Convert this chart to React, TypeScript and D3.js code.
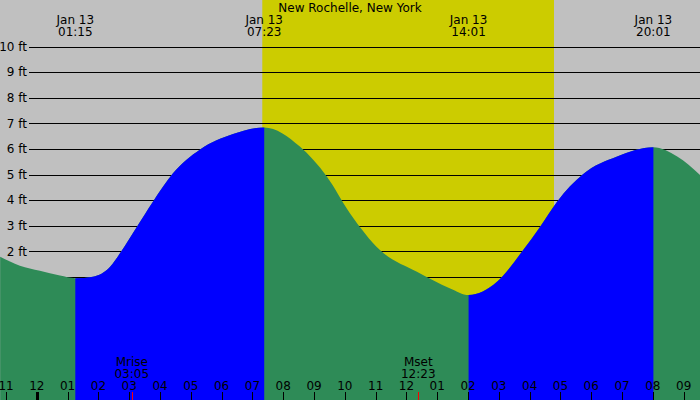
import { useEffect, useRef } from 'react';
import { select, scaleLinear, area, curveMonotoneX, range } from 'd3';

// Tide heights (ft), hours relative to midnight Jan 13
const tideHours = [
  -1.19, -0.55, 0.1, 0.75, 1.25, 1.82, 2.38, 2.7, 3.25, 3.77, 4.42, 5.3, 6.37, 7.383,
  8.54, 9.42, 10.17, 11.14, 12.34, 13.42, 14.017, 14.94, 15.79, 16.34, 16.89, 17.73,
  18.84, 20.017, 20.79, 21.53,
];
const tideFeet = [
  1.79, 1.44, 1.24, 1.05, 0.95, 1.01, 1.4, 1.92, 2.96, 3.94, 5.05, 5.98, 6.58, 6.84,
  6.09, 4.91, 3.48, 2.05, 1.2, 0.55, 0.29, 0.81, 2.05, 2.96, 3.94, 5.01,
  5.7, 6.06, 5.7, 4.98,
];

// High / low tide events shown in the header
const extremeHours = [1.25, 7.383, 14.017, 20.017];
const extremeLabels = ['01:15', '07:23', '14:01', '20:01'];
const extremeDate = 'Jan 13';

// Daylight (sunrise, sunset)
const sunHours = [7.32, 16.79];

// Moon events
const moonNames = ['Mrise', 'Mset'];
const moonHours = [3.083, 12.383];
const moonLabels = ['03:05', '12:23'];

const feetTicks = range(-1, 11);
const hourTicks = range(-1, 22);

const title = 'New Rochelle, New York';

const FONT = '"DejaVu Sans", sans-serif';

export default function App() {
  const svgRef = useRef<SVGSVGElement>(null);

  useEffect(() => {
    if (!svgRef.current) return;
    const width = 700;
    const height = 400;

    const svg = select(svgRef.current);
    svg.selectAll('*').remove();

    const x = scaleLinear().domain([-1.195, 21.53]).range([0, width]);
    const y = scaleLinear().domain([0, 10]).range([302.5, 46.5]);

    // Background: night grey, daylight yellow
    svg.append('rect').attr('width', width).attr('height', height).attr('fill', '#c0c0c0');
    svg
      .append('rect')
      .attr('x', x(sunHours[0]))
      .attr('width', x(sunHours[1]) - x(sunHours[0]))
      .attr('height', height)
      .attr('fill', '#cccc00');

    // Grid lines + labels
    feetTicks.forEach((f) => {
      svg
        .append('line')
        .attr('x1', 29)
        .attr('x2', width)
        .attr('y1', Math.round(y(f)) + 0.5)
        .attr('y2', Math.round(y(f)) + 0.5)
        .attr('stroke', '#000')
        .attr('stroke-width', 1);
      svg
        .append('text')
        .attr('x', 27)
        .attr('y', y(f))
        .attr('dy', '0.36em')
        .attr('text-anchor', 'end')
        .attr('font-family', FONT)
        .attr('font-size', 12)
        .attr('fill', '#000')
        .text(`${f} ft`);
    });

    // Water
    const data = tideHours.map((h, i) => ({ h, v: tideFeet[i] }));
    const water = area<{ h: number; v: number }>()
      .x((d) => x(d.h))
      .y0(height)
      .y1((d) => y(d.v))
      .curve(curveMonotoneX);

    svg.append('path').datum(data).attr('d', water).attr('fill', '#2e8b57');

    // Rising tide in blue (low -> high)
    const defs = svg.append('defs');
    const clip = defs.append('clipPath').attr('id', 'rising');
    for (let i = 0; i < extremeHours.length - 1; i += 2) {
      clip
        .append('rect')
        .attr('x', x(extremeHours[i]))
        .attr('width', x(extremeHours[i + 1]) - x(extremeHours[i]))
        .attr('y', 0)
        .attr('height', height);
    }
    svg
      .append('path')
      .datum(data)
      .attr('d', water)
      .attr('fill', '#0000ff')
      .attr('clip-path', 'url(#rising)');

    // Title
    svg
      .append('text')
      .attr('x', width / 2)
      .attr('y', 12)
      .attr('text-anchor', 'middle')
      .attr('font-family', FONT)
      .attr('font-size', 12)
      .attr('fill', '#000')
      .text(title);

    // Header tide labels
    extremeHours.forEach((h, i) => {
      const t = svg
        .append('text')
        .attr('text-anchor', 'middle')
        .attr('font-family', FONT)
        .attr('font-size', 12)
        .attr('fill', '#000');
      t.append('tspan').attr('x', x(h)).attr('y', 24).text(extremeDate);
      t.append('tspan').attr('x', x(h)).attr('y', 36).text(extremeLabels[i]);
    });

    // Hour axis
    hourTicks.forEach((h) => {
      const hr = ((h % 12) + 12) % 12 || 12;
      svg
        .append('text')
        .attr('x', x(h))
        .attr('y', 390)
        .attr('text-anchor', 'middle')
        .attr('font-family', FONT)
        .attr('font-size', 12)
        .attr('fill', '#000')
        .text(String(hr).padStart(2, '0'));
      svg
        .append('line')
        .attr('x1', Math.round(x(h)) + 0.5)
        .attr('x2', Math.round(x(h)) + 0.5)
        .attr('y1', 392)
        .attr('y2', height)
        .attr('stroke', '#000')
        .attr('stroke-width', h === 0 ? 3 : 1);
    });

    // Moon rise / set
    moonHours.forEach((h, i) => {
      const t = svg
        .append('text')
        .attr('text-anchor', 'middle')
        .attr('font-family', FONT)
        .attr('font-size', 12)
        .attr('fill', '#000');
      t.append('tspan').attr('x', x(h)).attr('y', 366).text(moonNames[i]);
      t.append('tspan').attr('x', x(h)).attr('y', 378).text(moonLabels[i]);
      svg
        .append('line')
        .attr('x1', Math.round(x(h)) + 0.5)
        .attr('x2', Math.round(x(h)) + 0.5)
        .attr('y1', 392)
        .attr('y2', height)
        .attr('stroke', '#ff0000')
        .attr('stroke-width', 1);
    });
  }, []);

  return (
    <svg
      ref={svgRef}
      width={700}
      height={400}
      style={{ position: 'absolute', left: 0, top: 0, display: 'block' }}
    />
  );
}
